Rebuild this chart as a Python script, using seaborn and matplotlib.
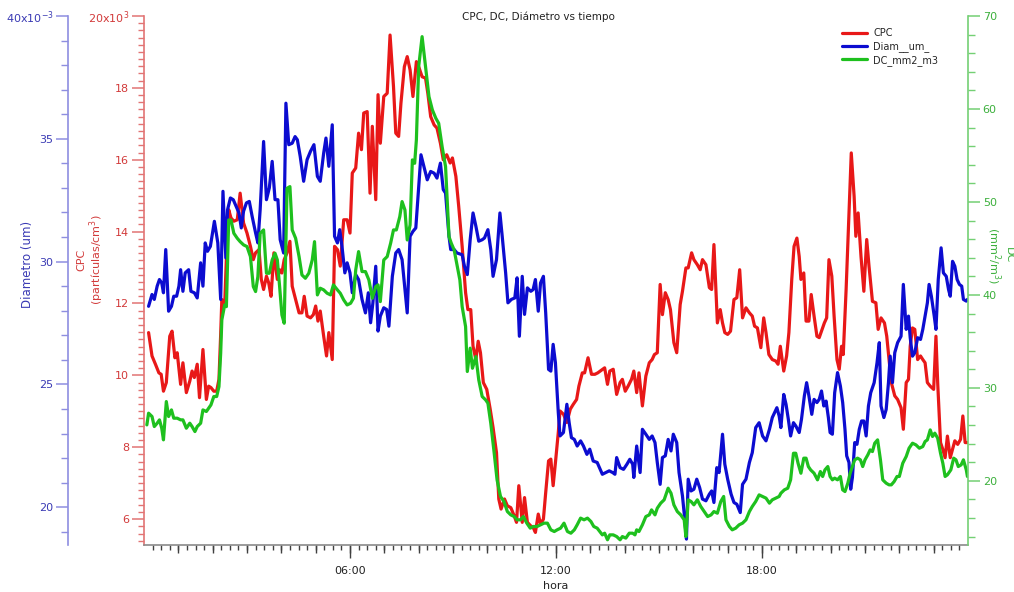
import numpy as np
import pandas as pd
import seaborn as sns
import matplotlib.pyplot as plt
from matplotlib.ticker import MultipleLocator, FixedLocator, FuncFormatter

# minutes after 00:00 and values
cpc_min = [8, 14, 20, 26, 30, 34, 39, 45, 49, 54, 58, 64, 68, 74, 80, 84, 88, 93, 97, 103,
           109, 113, 117, 122, 127, 131, 134, 136, 141, 144, 148, 152, 157, 163, 168, 174, 180, 186, 191, 195,
           201, 205, 209, 214, 218, 222, 227, 233, 237, 241, 245, 250, 255, 259, 265, 271, 276, 280, 285, 291,
           296, 300, 304, 308, 314, 319, 323, 329, 333, 338, 343, 349, 355, 360, 364, 370, 375, 380, 384, 390,
           395, 399, 405, 409, 413, 419, 425, 430, 436, 440, 445, 449, 455, 460, 465, 470, 476, 480,
           486, 492, 496, 501, 507, 512, 518, 523, 529, 535, 539, 545, 550, 556, 562, 566, 571, 575, 580, 584,
           588, 593, 599, 605, 610, 616, 620, 624, 630, 635, 641, 647, 651, 655, 661, 665, 670, 676, 680, 684,
           689, 693, 698, 702, 707, 711, 715, 719, 724, 727, 733, 739, 745, 750, 756, 760, 766, 770, 776, 782,
           788, 793,
           805, 810, 814, 820, 826, 832, 836, 841, 846, 852, 856, 861, 865, 871, 877, 883, 888, 892, 897, 902,
           906, 911, 916, 920, 926, 931, 937, 941, 947, 951, 957, 961, 967, 972, 976, 982, 988, 992, 996, 1002,
           1007, 1011, 1015, 1020, 1025, 1031, 1036, 1041, 1046, 1052, 1058, 1063, 1067, 1072, 1078, 1083, 1087,
           1092, 1098, 1104, 1108,
           1112, 1118, 1123, 1127, 1132, 1136, 1141, 1145, 1148, 1153, 1157, 1162, 1166, 1171, 1176, 1180, 1184,
           1189, 1193, 1197, 1202, 1206, 1211, 1215, 1219, 1222, 1227, 1231, 1236, 1241, 1244, 1248, 1253, 1258,
           1263, 1267, 1273, 1279, 1283, 1288, 1294, 1298, 1302, 1306, 1312, 1317, 1323, 1327, 1332, 1336, 1339,
           1343, 1347, 1352, 1357, 1361, 1365, 1369, 1374, 1380, 1384, 1387, 1392, 1396, 1400, 1404, 1409, 1413,
           1417, 1422, 1427, 1431, 1435, 1439]
cpc_val = [11.19, 10.54, 10.31, 10.07, 10.03, 9.56, 9.8, 11.09, 11.23, 10.49, 10.63, 9.75, 10.35, 9.52, 9.84,
           10.12, 9.94, 10.31, 9.38, 10.72, 9.33, 9.7, 9.66, 9.56, 9.56, 9.89, 11.14, 12.11, 11.97, 13.27,
           14.61, 14.38, 14.29, 14.33, 15.07, 14.24, 13.96, 13.59, 13.22, 13.41, 13.5, 12.67, 12.39, 12.76, 12.57,
           12.2, 13.41, 12.67, 12.94, 12.85, 13.22, 13.41, 13.73, 12.48, 12.11, 11.74, 11.74, 12.2, 11.65, 11.6,
           11.69, 11.93, 11.51, 11.79, 11.09, 10.54, 11.19, 10.44, 13.59, 13.5, 13.04, 14.33, 14.33, 13.96, 15.63,
           15.77, 16.74, 16.28, 17.3, 17.34, 15.07, 16.93, 14.89, 17.81, 16.46, 17.76, 17.85, 19.47, 18.04, 16.74,
           16.65, 17.57, 18.59, 18.87, 18.5, 17.76, 18.73, 18.59,
           18.31, 18.27, 17.85, 17.2, 16.97, 16.88, 16.46, 16.0, 16.14, 15.91, 16.05, 15.54, 14.7, 13.59, 12.3,
           11.83, 11.83, 10.81, 10.44, 10.95, 10.63, 9.8, 9.61, 9.06, 8.55, 7.85, 6.56, 6.28, 6.56, 6.37,
           6.32, 6.09, 5.91, 6.93, 5.91, 6.6, 5.91, 5.81, 5.77, 5.63, 6.14, 5.86, 6.0, 6.74, 7.62, 7.67, 6.93,
           7.57, 8.41, 9.01, 8.92, 8.69, 9.06, 9.19, 9.33, 9.7, 10.07, 10.07, 10.49, 10.03, 10.03, 10.07,
           10.21, 9.75, 10.12, 10.17, 9.47, 9.8, 9.89, 9.56, 9.7, 9.89, 10.12, 9.52, 10.07, 9.15, 9.98, 10.35,
           10.44, 10.58, 10.63, 12.53, 11.69, 12.3, 12.11, 11.83, 10.91, 10.63, 11.97, 12.34, 12.99, 12.99,
           13.41, 13.22, 13.08, 12.94, 13.22, 13.08, 12.44, 12.39, 13.64, 11.46, 11.83, 11.46, 11.19, 11.14,
           11.23, 12.11, 12.16, 12.94, 11.6, 11.88, 11.74, 11.65, 11.37, 11.32, 10.77, 11.6, 11.19, 10.58,
           10.44, 10.4, 10.31,
           10.81, 10.12, 10.54, 11.19, 12.67, 13.59, 13.82, 13.31, 12.67, 12.85, 11.51, 11.51, 12.25, 11.65,
           11.09, 11.05, 11.23, 11.46, 11.6, 13.22, 12.76, 11.65, 10.44, 10.17, 10.81, 10.58, 12.39, 14.06,
           16.19, 14.98, 13.87, 14.52, 13.31, 12.34, 13.78, 13.04, 12.06, 12.02, 11.28, 11.6, 11.46, 11.09,
           10.44, 9.8, 9.43, 9.33, 9.1, 8.5, 9.8, 9.89, 10.81, 11.32, 11.28, 10.44, 10.54, 10.44, 10.35, 9.8,
           9.7, 9.61, 11.09, 9.8, 8.13, 7.94, 7.71, 8.31, 7.71, 7.94, 8.18, 8.08, 8.22, 8.87, 8.13, 8.13]

diam_min = [8, 14, 18, 23, 27, 31, 34, 38, 43, 48, 52, 57, 61, 64, 68, 72, 78, 82, 88, 93,
            99, 103, 107, 111, 116, 123, 129, 134, 138, 143, 146, 151, 156, 161, 166, 170, 174, 179, 184, 189,
            195, 199, 203, 209, 214, 219, 224, 229, 234, 238, 244, 248, 253, 259, 264, 268, 273, 279, 285, 291,
            297, 303, 308, 314, 318, 323, 329, 333, 338, 342, 346, 351, 355, 360, 364, 370, 375, 381, 387, 392,
            396, 400, 405, 409, 413, 419, 424, 428, 434, 440, 445, 451, 460, 465, 470, 475,
            484, 489, 495, 501, 507, 512, 518, 523, 527, 533, 536, 542, 547, 556, 560, 565, 570, 575, 580, 585,
            591, 595, 601, 606, 610, 616, 622, 626, 632, 636, 642, 648, 652, 656, 661, 665, 670, 676, 680, 684,
            689, 693, 698, 702, 707, 711, 715, 719, 724, 727, 733, 739, 743, 747, 752, 757, 763, 768, 774, 779,
            785, 792,
            801, 807, 813, 819, 823, 826, 832, 838, 844, 849, 854, 856, 861, 867, 871, 877, 883, 888, 893, 897,
            902, 906, 911, 916, 921, 925, 931, 935, 941, 945, 948, 951, 956, 961, 966, 971, 976, 982, 988, 992,
            996, 1001, 1005, 1011, 1015, 1020, 1026, 1031, 1036, 1042, 1046, 1052, 1058, 1063, 1069, 1075, 1081,
            1087, 1093, 1098, 1106, 1110,
            1113, 1118, 1122, 1126, 1130, 1135, 1139, 1145, 1149, 1154, 1158, 1162, 1167, 1171, 1176, 1180, 1184,
            1188, 1192, 1196, 1199, 1203, 1207, 1212, 1217, 1221, 1225, 1228, 1232, 1235, 1238, 1242, 1246, 1250,
            1254, 1258, 1262, 1266, 1270, 1276, 1281, 1285, 1288, 1293, 1297, 1301, 1304, 1308, 1312, 1317, 1323,
            1327, 1332, 1336, 1339, 1343, 1347, 1352, 1357, 1361, 1365, 1369, 1372, 1376, 1381, 1384, 1388, 1393,
            1397, 1402, 1406, 1409, 1413, 1417, 1421, 1425, 1429, 1432, 1437, 1439]
diam_val = [28.18, 28.66, 28.46, 29.0, 29.27, 29.13, 28.73, 30.49, 27.98, 28.18, 28.59, 28.59, 29.0, 29.67,
            28.79, 29.54, 29.67, 28.79, 28.73, 28.52, 29.95, 29.0, 30.76, 30.42, 30.62, 31.64, 30.76, 28.46,
            32.86, 30.15, 32.11, 32.59, 32.52, 32.25, 31.98, 31.37, 32.05, 32.39, 32.45, 31.84, 31.17, 30.76,
            32.11, 34.89, 32.52, 33.0, 34.08, 32.52, 32.52, 30.89, 30.35, 36.45, 34.76, 34.82, 35.09, 34.96,
            34.28, 33.27, 34.15, 34.49, 34.76, 33.47, 33.27, 34.42, 35.03, 33.88, 35.57, 31.03, 30.76, 31.3,
            30.62, 29.54, 29.95, 29.54, 28.73, 29.47, 29.27, 28.46, 27.91, 28.73, 27.51, 28.32, 29.81, 27.17,
            27.78, 28.12, 28.05, 27.37, 29.4, 30.35, 30.49, 30.08, 27.91, 31.03, 31.23, 31.37,
            34.35, 33.88, 33.33, 33.67, 33.6, 33.4, 34.01, 32.93, 32.79, 31.03, 30.49, 30.49, 30.35, 30.28,
            29.81, 29.47, 30.89, 31.98, 31.44, 30.83, 30.89, 30.96, 31.3, 30.49, 29.4, 30.08, 31.98, 31.03,
            29.54, 28.32, 28.46, 28.52, 29.34, 26.96, 29.4, 27.85, 28.93, 28.79, 28.86, 29.27, 27.98, 29.13,
            29.4, 27.91, 25.61, 25.54, 26.63, 25.88, 23.85, 22.9, 23.04, 24.19, 23.44, 22.83, 22.76, 22.49,
            22.7, 22.49, 22.15, 22.36, 21.88, 21.82,
            21.34, 21.41, 21.48, 21.41, 21.34, 22.02, 21.61, 21.54, 21.75, 21.95, 21.75, 21.21, 22.49, 21.41,
            23.17, 22.97, 22.76, 22.9, 22.63, 21.82, 20.93, 22.02, 22.09, 22.76, 22.29, 22.97, 22.63, 21.41,
            20.46, 19.51, 18.7, 21.14, 20.66, 20.73, 21.14, 20.8, 20.33, 20.26, 20.53, 20.66, 20.19, 21.61,
            21.41, 22.97, 21.75, 21.14, 20.53, 20.19, 20.12, 19.78, 20.93, 21.14, 21.82, 22.22, 23.24, 23.44,
            22.9, 22.7, 23.17, 23.65, 24.05, 23.71,
            23.24, 24.59, 24.19, 23.58, 22.9, 23.44, 23.31, 23.04, 23.58, 24.53, 25.07, 24.53, 23.78, 24.39,
            24.26, 24.39, 24.73, 24.12, 24.32, 23.65, 23.04, 22.97, 24.66, 25.48, 24.93, 24.26, 23.17, 22.09,
            21.82, 20.73, 21.21, 22.63, 22.56, 23.17, 23.51, 23.51, 22.9, 24.12, 24.66, 25.07, 25.88, 26.7,
            24.12, 23.65, 23.98, 25.07, 26.15, 25.07, 26.29, 26.7, 26.96, 29.07, 27.24, 27.78, 26.9, 26.15,
            26.29, 26.9, 26.83, 27.24, 27.78, 28.32, 29.07, 28.59, 27.78, 27.24, 29.27, 30.56, 29.54, 29.4,
            28.86, 28.59, 30.01, 29.81, 29.27, 29.07, 29.0, 28.46, 28.39, 28.46]

dc_min = [5, 8, 14, 18, 23, 27, 31, 34, 39, 43, 48, 52, 58, 64, 68, 74, 80, 84, 89, 93,
          99, 103, 109, 113, 117, 122, 127, 131, 134, 136, 141, 144, 148, 152, 157, 163, 168, 174, 180, 186,
          191, 195, 199, 203, 209, 214, 219, 224, 229, 233, 237, 241, 245, 250, 255, 259, 265, 271, 276, 282,
          288, 294, 298, 303, 308, 314, 320, 326, 331, 338, 343, 349, 355, 361, 366, 370, 375, 381, 387, 393,
          399, 405, 409, 413, 419, 425, 431, 436, 441, 447, 451, 456, 460, 465, 469, 473, 476, 480,
          486, 492, 498, 504, 510, 515, 521, 527, 533, 537, 542, 547, 552, 556, 562, 565, 570, 574, 580, 585,
          591, 597, 601, 606, 612, 617, 623, 629, 635, 641, 647, 652, 658, 663, 669, 675, 680, 687, 693, 699,
          705, 711, 717, 722, 728, 734, 740, 746, 752, 757, 763, 769, 775, 781, 786, 792,
          801, 805, 810, 814, 820, 826, 832, 836, 842, 848, 854, 858, 861, 865, 871, 877, 883, 887, 893, 897,
          903, 909, 916, 921, 926, 932, 938, 944, 947, 951, 956, 961, 967, 973, 979, 985, 991, 996, 1002, 1008,
          1013, 1017, 1023, 1028, 1034, 1040, 1046, 1052, 1058, 1063, 1069, 1075, 1081, 1087, 1093, 1098, 1104,
          1110,
          1113, 1119, 1125, 1130, 1135, 1139, 1143, 1148, 1153, 1157, 1161, 1165, 1171, 1177, 1182, 1186, 1190,
          1195, 1199, 1203, 1207, 1212, 1217, 1221, 1225, 1230, 1234, 1238, 1242, 1247, 1252, 1256, 1260, 1265,
          1269, 1273, 1277, 1282, 1287, 1291, 1297, 1302, 1306, 1311, 1316, 1320, 1326, 1332, 1337, 1343, 1349,
          1355, 1361, 1365, 1369, 1374, 1378, 1382, 1387, 1392, 1396, 1400, 1404, 1410, 1415, 1419, 1423, 1428,
          1432, 1437, 1439]
dc_val = [26.02, 27.28, 26.92, 25.84, 26.2, 26.56, 25.66, 24.41, 28.53, 26.92, 27.63, 26.74, 26.74, 26.56,
          26.56, 25.66, 26.2, 25.84, 25.3, 25.84, 26.2, 27.63, 27.46, 27.81, 28.17, 29.07, 29.07, 30.14, 33.73,
          37.31, 38.92, 38.74, 48.06, 48.06, 46.63, 46.09, 45.73, 45.38, 45.2, 44.12, 40.9, 40.36, 41.97, 46.63,
          46.99, 42.33, 42.33, 43.76, 44.48, 43.76, 40.9, 37.85, 36.95, 51.47, 51.65, 46.99, 46.09, 44.12,
          42.15, 41.79, 42.33, 43.76, 45.73, 40.0, 40.72, 40.54, 40.18, 40.0, 41.08, 40.54, 40.18, 39.46,
          38.92, 39.1, 39.64, 42.69, 44.66, 42.51, 42.51, 41.61, 39.64, 40.9, 41.08, 39.28, 43.76, 44.12,
          45.56, 46.99, 46.99, 48.42, 50.04, 49.14, 45.91, 47.53, 54.52, 54.16, 56.67, 64.55,
          67.78, 64.55, 61.33, 59.89, 59.0, 58.46, 55.95, 53.8, 46.27, 45.56, 44.84, 43.23, 41.61, 38.74,
          36.59, 31.76, 34.27, 32.11, 33.37, 30.86, 29.07, 28.71, 28.35, 26.2, 22.97, 20.11, 18.32, 17.78,
          16.7, 16.34, 16.16, 15.81, 15.81, 16.16, 15.45, 14.91, 15.09, 15.09, 15.27, 15.45, 15.45, 14.73,
          14.55, 14.73, 14.91, 15.45, 14.55, 14.37, 14.73, 15.27, 15.99, 15.81, 15.99, 15.63, 15.09, 14.91,
          14.19, 14.37, 13.66, 14.19, 14.19, 14.01, 13.66, 14.01, 13.84, 14.37, 14.37, 14.19, 14.73, 14.55,
          15.27, 16.16, 16.34, 16.88, 16.34, 17.06, 17.6, 17.96, 19.21, 18.67, 17.42, 16.7, 16.34, 15.81,
          14.01, 17.96, 17.78, 17.42, 17.96, 17.24, 16.7, 16.16, 16.34, 16.7, 16.52, 17.78, 18.32, 15.81,
          15.09, 14.73, 14.91, 15.27, 15.45, 15.81, 16.7, 17.24, 17.78, 18.49, 18.32, 18.14, 17.6, 17.96,
          18.14, 18.32,
          18.67, 19.03, 19.21, 20.11, 22.97, 22.97, 21.9, 20.82, 22.44, 22.44, 21.54, 21.18, 20.82, 20.11,
          21.0, 20.47, 21.18, 21.54, 20.47, 20.11, 20.29, 20.11, 20.47, 19.03, 18.85, 19.75, 20.82, 21.54,
          22.26, 22.44, 22.26, 21.54, 22.26, 22.8, 23.33, 23.15, 24.05, 24.41, 22.26, 20.11, 19.75, 19.57,
          19.57, 19.93, 20.47, 20.47, 21.9, 22.62, 23.51, 24.05, 23.87, 23.51, 23.69, 24.23, 24.41, 25.48,
          24.77, 25.13, 24.59, 22.97, 21.9, 20.47, 20.65, 21.18, 22.44, 22.26, 21.54, 21.72, 22.26, 21.18, 20.47]

hour_ticks = [6, 12, 18]
hour_labels = ["06:00", "12:00", "18:00"]
series_names = ["CPC", "Diam__um_", "DC_mm2_m3"]

RED, BLUE, GREEN = "#e81818", "#0c0cd0", "#1ec01e"


def to_frame(minutes, values):
    return pd.DataFrame({"hora": np.asarray(minutes) / 60.0, "valor": values})


def style_y(a, side, spine_c, text_c, major, minor, maj_len=8.6, min_len=4.8):
    for s in ["top", "bottom", "left", "right"]:
        if s != side and not (a is ax and s == "bottom"):
            a.spines[s].set_visible(False)
    a.spines[side].set_color(spine_c)
    a.spines[side].set_linewidth(1.2)
    a.yaxis.set_ticks_position(side)
    a.yaxis.set_label_position(side)
    a.yaxis.set_major_locator(MultipleLocator(major))
    a.yaxis.set_minor_locator(MultipleLocator(minor))
    a.tick_params(axis="y", which="major", length=maj_len, width=1.1, color=spine_c,
                  labelcolor=text_c, labelsize=8, pad=2, direction="out")
    a.tick_params(axis="y", which="minor", length=min_len, width=1.0, color=spine_c, direction="out")


sns.set_theme(style="ticks")
plt.rcParams["font.family"] = ["DejaVu Sans"]

fig = plt.figure(figsize=(10.14, 5.92), dpi=100)
ax = fig.add_axes([144 / 1014, 47 / 592, 824 / 1014, 529 / 592])
ax_d = ax.twinx()
ax_g = ax.twinx()

sns.lineplot(data=to_frame(cpc_min, cpc_val), x="hora", y="valor", ax=ax, color=RED,
             linewidth=2.3, estimator=None, sort=False, legend=False)
sns.lineplot(data=to_frame(diam_min, diam_val), x="hora", y="valor", ax=ax_d, color=BLUE,
             linewidth=2.3, estimator=None, sort=False, legend=False)
sns.lineplot(data=to_frame(dc_min, dc_val), x="hora", y="valor", ax=ax_g, color=GREEN,
             linewidth=2.3, estimator=None, sort=False, legend=False)

ax.set_xlim(0, 24)
ax.set_ylim(5.28, 20)
ax_d.set_ylim(18.46, 40)
ax_g.set_ylim(13.1, 70)

# CPC axis (left, red)
style_y(ax, "left", "#e27474", "#d23a3a", 2, 0.2, min_len=4.6)
ax.yaxis.set_major_formatter(FuncFormatter(
    lambda v, p: "20x10$^{3}$" if abs(v - 20) < 1e-6 else f"{v:g}"))
ax.set_ylabel("CPC\n(partículas/cm$^3$)", color="#d23a3a", fontsize=8, va="center", linespacing=1.1)
ax.yaxis.set_label_coords(-0.064, 0.539)

# diameter axis (outer left, blue)
style_y(ax_d, "left", "#8e8ee0", "#3a3ab4", 5, 1)
ax_d.spines["left"].set_position(("axes", -76 / 824))
ax_d.yaxis.set_major_formatter(FuncFormatter(
    lambda v, p: "40x10$^{-3}$" if abs(v - 40) < 1e-6 else f"{v:g}"))
ax_d.set_ylabel("Diametro (um)", color="#3a3ab4", fontsize=8.5, va="center")
ax_d.yaxis.set_label_coords(-0.1408, 0.53)

# DC axis (right, green)
style_y(ax_g, "right", "#74d074", "#3cb03c", 10, 2)
ax_g.set_ylabel("DC\n(mm$^2$/m$^3$)", color="#3cb03c", fontsize=8, rotation=270,
                va="center", linespacing=1.1)
ax_g.yaxis.set_label_coords(1.0376, 0.548)

# x axis: labelled ticks every 6 h, hour ticks, quarter-hour ticks
ax.spines["bottom"].set_color("#8a8a8a")
ax.spines["bottom"].set_linewidth(1.2)
ax.set_xticks(hour_ticks)
ax.set_xticklabels(hour_labels)
ax.xaxis.set_minor_locator(FixedLocator(np.arange(0.25, 24, 0.25)))
ax.tick_params(axis="x", which="major", length=9.4, width=1.0, color="#404040",
               labelsize=8, labelcolor="#222222", pad=6)
ax.tick_params(axis="x", which="minor", length=3.6, width=1.0, color="#404040")
sec = ax.secondary_xaxis("bottom")
sec.xaxis.set_major_locator(FixedLocator(list(range(1, 24))))
sec.tick_params(axis="x", length=5.8, width=1.0, color="#404040", labelbottom=False)
sec.spines["bottom"].set_visible(False)
ax.set_xlabel("hora", fontsize=8, color="#222222", labelpad=3)

fig.text(538 / 1014, 1 - 17 / 592, "CPC, DC, Diámetro vs tiempo", ha="center", va="center",
         fontsize=7.5, color="#222222")

handles = [ax.get_lines()[0], ax_d.get_lines()[0], ax_g.get_lines()[0]]
fig.legend(handles, series_names, loc="upper left", bbox_to_anchor=(842 / 1014, 1 - 28 / 592),
           frameon=False, fontsize=7, handlelength=2.6, labelspacing=0.3, handletextpad=0.6,
           borderaxespad=0, borderpad=0)

fig.savefig("out.png", dpi=100, facecolor="white")
